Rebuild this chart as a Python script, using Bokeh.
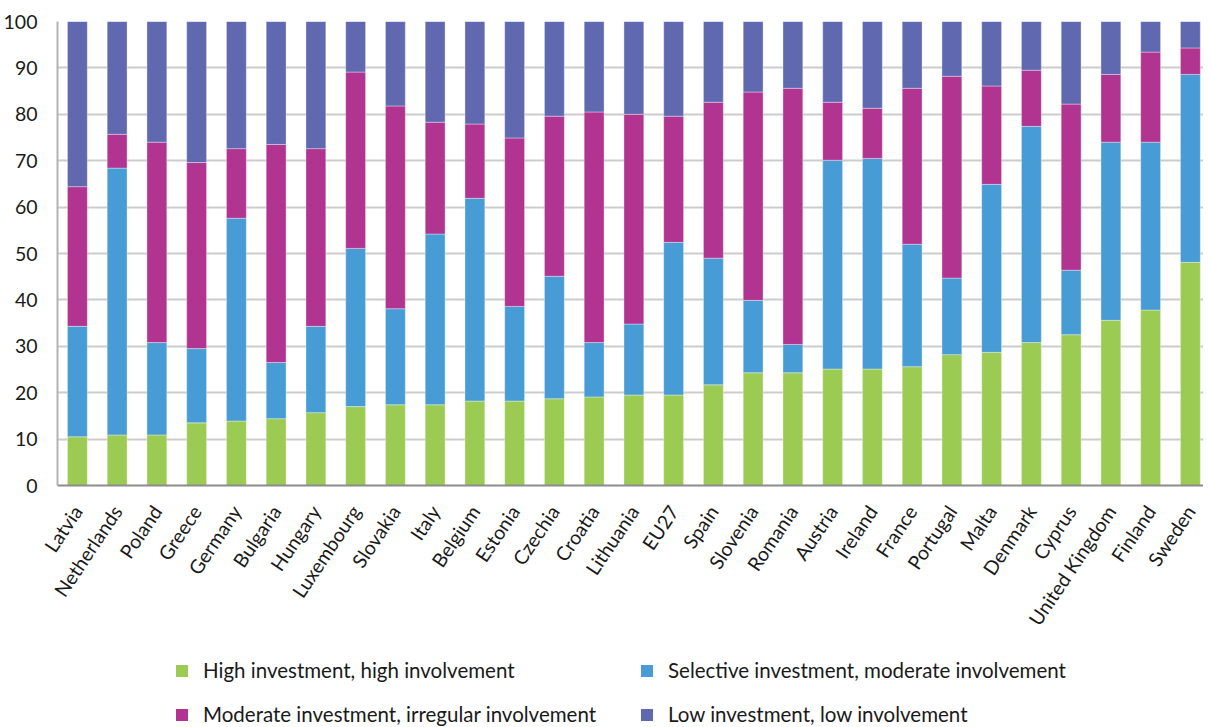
from bokeh.plotting import figure
from bokeh.models import Range1d, FixedTicker, Legend, LegendItem, ColumnDataSource
from bokeh.layouts import column
from bokeh.embed import file_html
from bokeh.resources import INLINE

countries = ["Latvia", "Netherlands", "Poland", "Greece", "Germany", "Bulgaria", "Hungary",
             "Luxembourg", "Slovakia", "Italy", "Belgium", "Estonia", "Czechia", "Croatia",
             "Lithuania", "EU27", "Spain", "Slovenia", "Romania", "Austria", "Ireland", "France",
             "Portugal", "Malta", "Denmark", "Cyprus", "United Kingdom", "Finland", "Sweden"]

high = [10.5, 10.9, 10.9, 13.5, 13.9, 14.4, 15.7, 17.0, 17.4, 17.4, 18.2, 18.2, 18.7, 19.1,
        19.5, 19.5, 21.7, 24.3, 24.3, 25.1, 25.1, 25.6, 28.2, 28.7, 30.8, 32.5, 35.6, 37.8, 48.1]
selective = [23.8, 57.5, 19.9, 16.0, 43.7, 12.1, 18.6, 34.1, 20.7, 36.8, 43.7, 20.4, 26.4, 11.7,
             15.3, 32.9, 27.3, 15.6, 6.1, 45.0, 45.4, 26.4, 16.5, 36.2, 46.6, 13.9, 38.4, 36.2, 40.5]
moderate = [30.1, 7.3, 43.2, 40.1, 15.0, 47.0, 38.3, 38.0, 43.7, 24.1, 16.0, 36.3, 34.5, 49.7,
            45.2, 27.2, 33.6, 44.9, 55.2, 12.5, 10.8, 33.6, 43.5, 21.2, 12.1, 35.8, 14.6, 19.4, 5.7]
low = [35.6, 24.3, 26.0, 30.4, 27.4, 26.5, 27.4, 10.9, 18.2, 21.7, 22.1, 25.1, 20.4, 19.5,
       20.0, 20.4, 17.4, 15.2, 14.4, 17.4, 18.7, 14.4, 11.8, 13.9, 10.5, 17.8, 11.4, 6.6, 5.7]

series_labels = ["High investment, high involvement",
                 "Selective investment, moderate involvement",
                 "Moderate investment, irregular involvement",
                 "Low investment, low involvement"]
colors = ["#9BCB52", "#479CD5", "#B03490", "#6069B0"]
y_ticks = list(range(0, 101, 10))
stackers = ["high", "selective", "moderate", "low"]

FONT = "Lato"

source = ColumnDataSource(dict(x=list(range(len(countries))), high=high, selective=selective,
                               moderate=moderate, low=low))

p = figure(width=1203, height=650, output_backend="svg", toolbar_location=None,
           x_range=Range1d(-0.5, 28.33), y_range=Range1d(0, 100),
           min_border_left=47, min_border_right=0, min_border_top=21, min_border_bottom=165)
p.outline_line_color = None
p.background_fill_color = "white"

renderers = p.vbar_stack(stackers, x="x", width=0.5,
                         color=colors, line_color="white", line_width=0.6, line_alpha=0.6,
                         source=source)

# axes
p.xaxis.ticker = FixedTicker(ticks=list(range(len(countries))))
p.xaxis.major_label_overrides = {i: c for i, c in enumerate(countries)}
p.xaxis.major_label_orientation = 0.98
p.xaxis.major_label_text_font = FONT
p.xaxis.major_label_text_font_size = "19.5px"
p.xaxis.major_label_text_color = "#1a1a1a"
p.xaxis.major_tick_line_color = None
p.xaxis.minor_tick_line_color = None
p.xaxis.axis_line_color = "#8c8c8c"
p.xaxis.axis_line_width = 2
p.xaxis.major_label_standoff = 16

p.yaxis.ticker = FixedTicker(ticks=y_ticks)
p.yaxis.major_label_text_font = FONT
p.yaxis.major_label_text_font_size = "19.5px"
p.yaxis.major_label_text_color = "#1a1a1a"
p.yaxis.major_tick_line_color = None
p.yaxis.minor_tick_line_color = None
p.yaxis.axis_line_color = "#b4b4b4"
p.yaxis.axis_line_width = 2
p.yaxis.major_label_standoff = 14

p.xgrid.grid_line_color = None
p.ygrid.grid_line_color = "#cccccc"
p.ygrid.grid_line_width = 2

# legend strip below the chart (same data, kept outside its visible range)
lp = figure(width=1203, height=76, output_backend="svg", toolbar_location=None,
            x_range=Range1d(-20, -19), y_range=Range1d(-20, -19), x_axis_type=None,
            y_axis_type=None, min_border_left=47, min_border_right=0, min_border_top=0,
            min_border_bottom=0)
lp.outline_line_color = None
lp.xgrid.grid_line_color = None
lp.ygrid.grid_line_color = None
leg_renderers = lp.vbar_stack(stackers, x="x", width=0.5, fill_color=colors,
                              line_color=None, source=source)

def make_legend(idx, x):
    items = [LegendItem(label=series_labels[i], renderers=[leg_renderers[i]]) for i in idx]
    lg = Legend(items=items, orientation="vertical", location=(x, 0),
                label_text_font=FONT, label_text_font_size="20.5px", label_text_color="#1a1a1a",
                glyph_width=15, glyph_height=15, label_standoff=14, spacing=20,
                border_line_color=None, background_fill_alpha=0, padding=0, margin=0,
                label_height=20)
    lg.label_text_line_height = 1.0
    return lg

lp.add_layout(make_legend([0, 2], 117), "center")
lp.add_layout(make_legend([1, 3], 582), "center")

layout = column(p, lp, spacing=0)
open("out.html", "w").write(file_html(layout, INLINE))
